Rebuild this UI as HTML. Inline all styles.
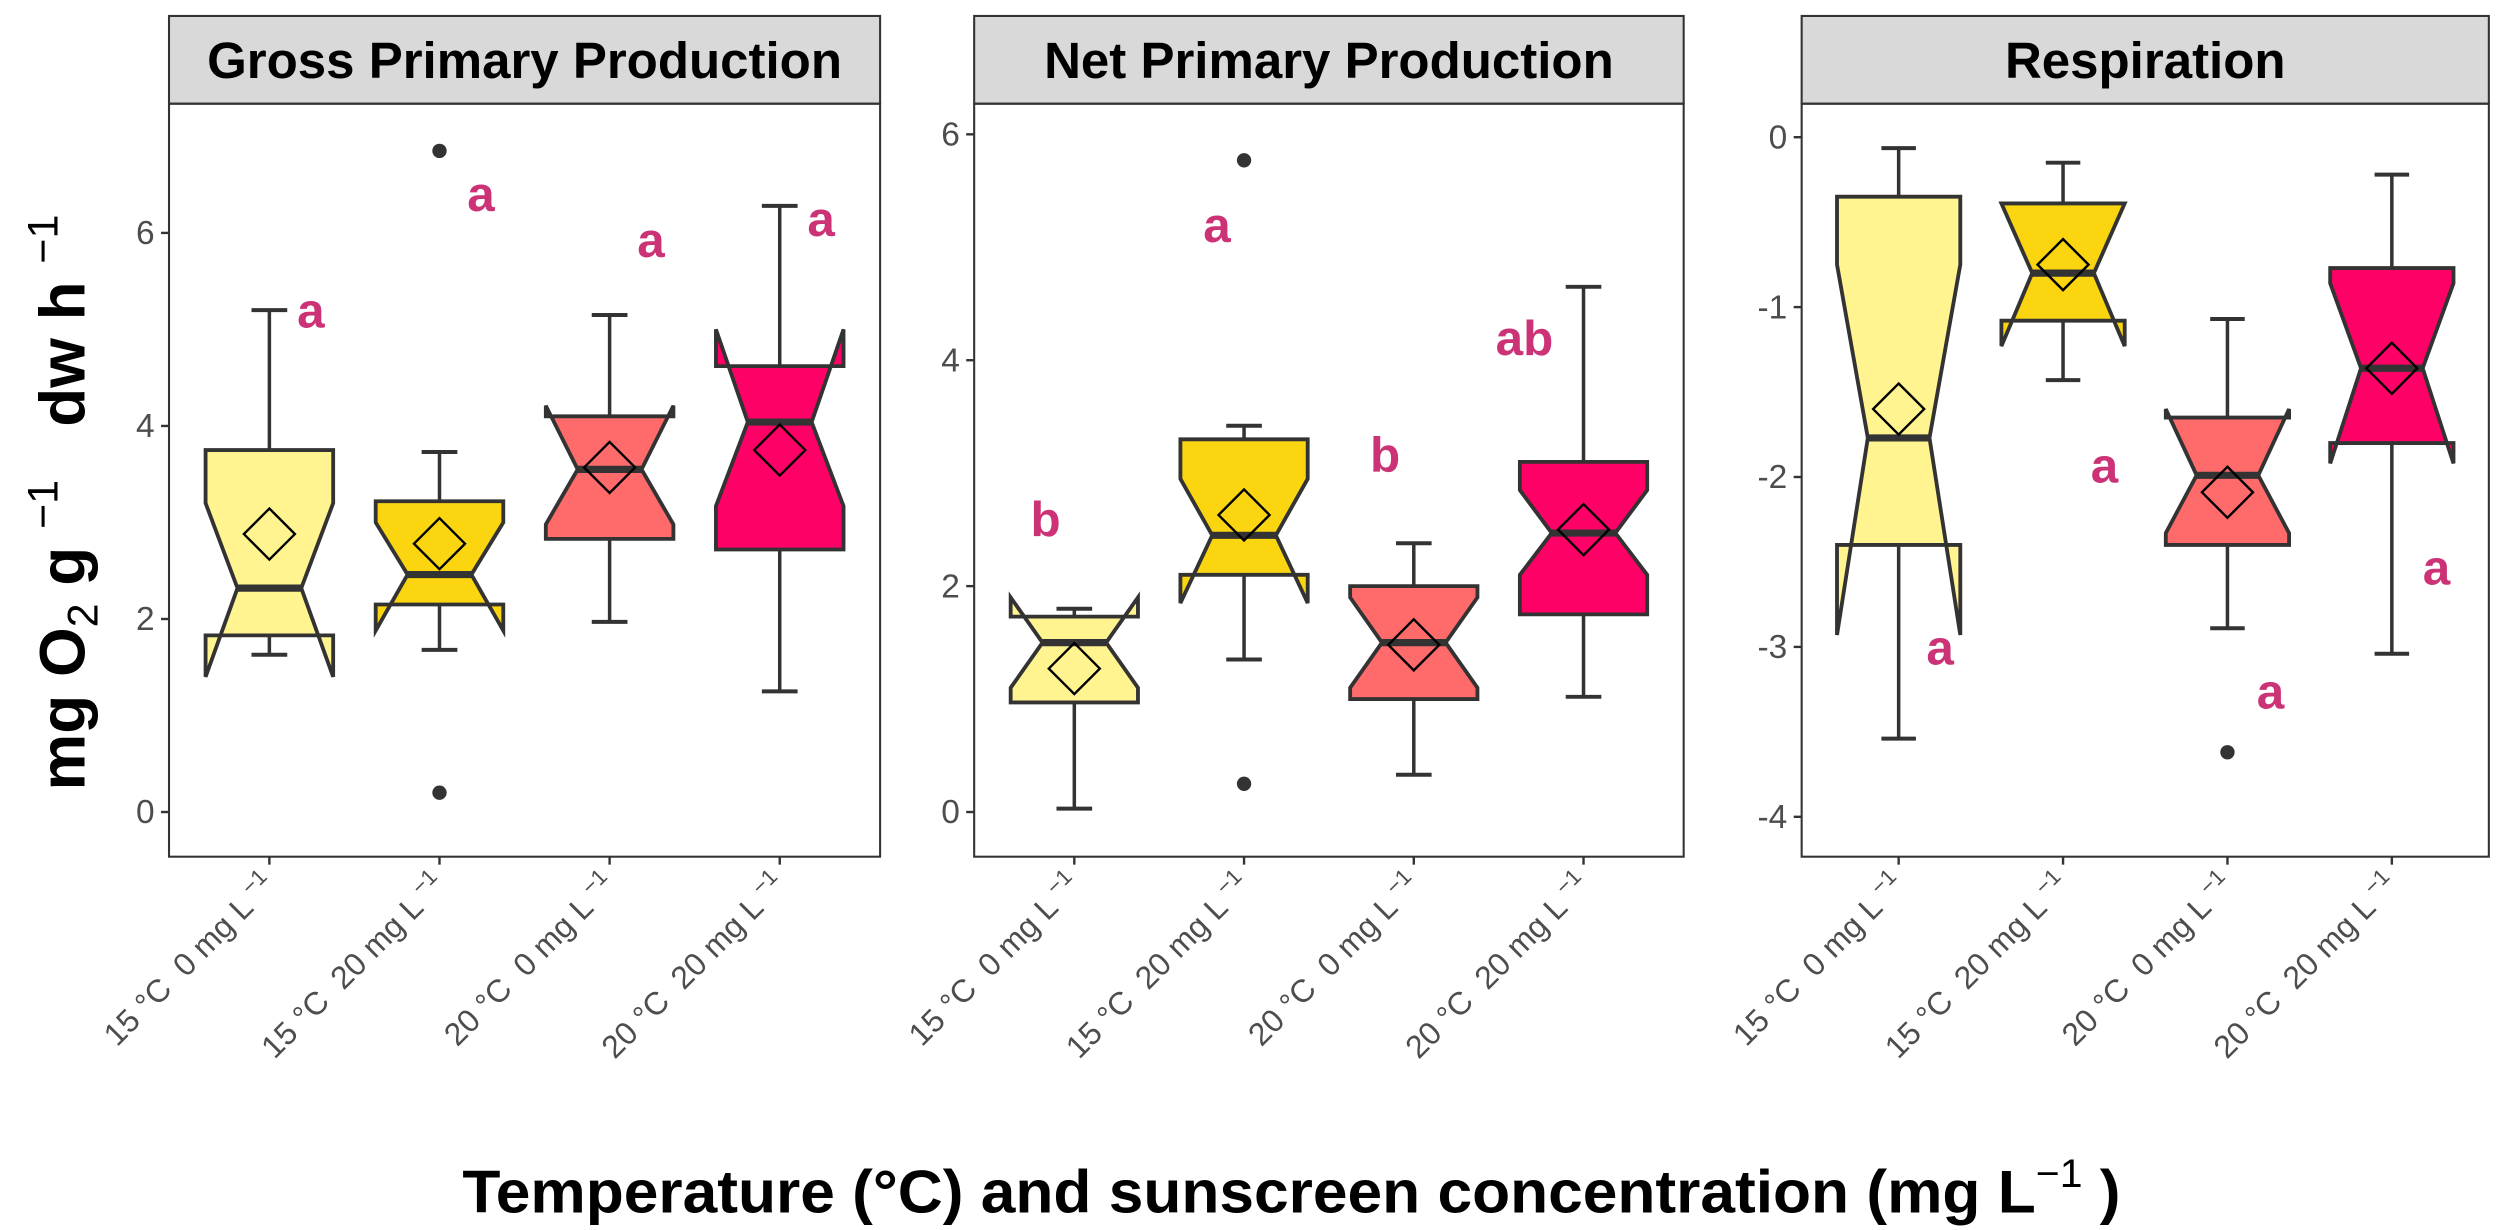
<!DOCTYPE html>
<html><head><meta charset="utf-8"><style>
html,body{margin:0;padding:0;background:#fff;}
svg{display:block;font-family:"Liberation Sans",Arial,sans-serif;}
</style></head><body>
<svg id="chart" width="2500" height="1230" viewBox="0 0 1568 771" preserveAspectRatio="none" xmlns="http://www.w3.org/2000/svg">
<rect width="1568" height="771" fill="#fff"/>
<text transform="translate(53,315) rotate(-90)" text-anchor="middle" font-size="40" font-weight="bold" fill="#000">mg O<tspan font-size="27" dy="8" font-weight="normal">2</tspan><tspan dy="-8">&#160;g&#160;</tspan><tspan font-size="27" dy="-17" font-weight="normal">−1</tspan><tspan dy="17">&#160;&#160;&#160;dw h&#160;</tspan><tspan font-size="27" dy="-17" font-weight="normal">−1</tspan></text>
<text x="810" y="760" text-anchor="middle" font-size="38" font-weight="bold" fill="#000" textLength="1040" lengthAdjust="spacingAndGlyphs">Temperature (°C) and sunscreen concentration (mg L<tspan font-size="25" dy="-16" font-weight="normal">−1</tspan><tspan dy="16"> )</tspan></text>
</svg>
<script>
const categories = ["15 °C\u00a0\u00a00 mg L", "15 °C\u00a0\u00a020 mg L", "20 °C\u00a0\u00a00 mg L", "20 °C\u00a0\u00a020 mg L"];
const colors = ["#FFF48F", "#FAD510", "#FF6B6B", "#FF0066"];
const panelTitles = ["Gross Primary Production", "Net Primary Production", "Respiration"];
// per panel: [box1..box4]
const whiskerHigh = [[5.2, 3.73, 5.15, 6.28], [1.8, 3.42, 2.38, 4.65], [-0.064, -0.15, -1.07, -0.22]];
const q3Values = [[3.75, 3.22, 4.1, 4.62], [1.73, 3.3, 2.0, 3.1], [-0.35, -0.39, -1.65, -0.77]];
const notchHigh = [[3.2, 3.0, 4.21, 5.0], [1.9, 2.95, 1.9, 2.85], [-0.75, -0.39, -1.6, -0.86]];
const medians = [[2.32, 2.46, 3.55, 4.04], [1.5, 2.45, 1.5, 2.47], [-1.77, -0.8, -1.99, -1.36]];
const notchLow = [[1.4, 1.88, 2.98, 3.17], [1.1, 1.85, 1.1, 2.1], [-2.93, -1.23, -2.33, -1.92]];
const q1Values = [[1.83, 2.15, 2.83, 2.72], [0.97, 2.1, 1.0, 1.75], [-2.4, -1.08, -2.4, -1.8]];
const whiskerLow = [[1.63, 1.68, 1.97, 1.25], [0.03, 1.35, 0.33, 1.02], [-3.54, -1.43, -2.89, -3.04]];
const means = [[2.88, 2.78, 3.57, 3.75], [1.27, 2.63, 1.48, 2.5], [-1.6, -0.75, -2.09, -1.36]];
const outliers = [[[], [6.85, 0.2], [], []], [[], [5.77, 0.25], [], []], [[], [], [-3.62], []]];
const letters = [["a", "a", "a", "a"], ["b", "a", "b", "ab"], ["a", "a", "a", "a"]];
const letterY = [[5.2, 6.41, 5.93, 6.15], [2.6, 5.2, 3.17, 4.2], [-3.0, -1.93, -3.26, -2.53]];
const yTicks = [[0, 2, 4, 6], [0, 2, 4, 6], [0, -1, -2, -3, -4]];
const yTickLabels = [["0", "2", "4", "6"], ["0", "2", "4", "6"], ["0", "-1", "-2", "-3", "-4"]];

const NS = "http://www.w3.org/2000/svg";
const svg = document.getElementById("chart");
const panels = [
  {x0: 106, x1: 552, yMap: v => 509 - v * 60.5, letterDx: [26, 26, 26, 26]},
  {x0: 611, x1: 1056, yMap: v => 509 - v * 70.8, letterDx: [-18, -17, -18, -37]},
  {x0: 1130, x1: 1561, yMap: v => 86 - v * 106.5, letterDx: [26, 26, 27, 28]}
];
const plotTop = 65, plotBot = 537, stripTop = 10;
function el(tag, attrs, parent) {
  const e = document.createElementNS(NS, tag);
  for (const k in attrs) e.setAttribute(k, attrs[k]);
  (parent || svg).appendChild(e);
  return e;
}
panels.forEach((p, pi) => {
  const g = el("g", {});
  
  
  const y = p.yMap;
  const step = (p.x1 - p.x0) / 4.18;
  const xc = i => p.x0 + (p.x1 - p.x0) / 2 + (i - 1.5) * step;
  const hw = step * 0.375;
  const strip = el("rect", {x: p.x0, y: stripTop, width: p.x1 - p.x0, height: plotTop - stripTop, fill: "#d9d9d9", stroke: "#333", "stroke-width": 1.3}, g);
  
  
  const st = el("text", {x: (p.x0 + p.x1) / 2, y: 49, "text-anchor": "middle", "font-size": 32, "font-weight": "bold", fill: "#000"}, g);
  st.textContent = panelTitles[pi];
  
  
  yTicks[pi].forEach((t, ti) => {
    const ty = y(t);
    el("line", {x1: p.x0 - 5, x2: p.x0, y1: ty, y2: ty, stroke: "#333", "stroke-width": 1.5}, g);
    const tl = el("text", {x: p.x0 - 9, y: ty + 7, "text-anchor": "end", "font-size": 21, fill: "#4d4d4d"}, g);
    tl.textContent = yTickLabels[pi][ti];
    
    
  });
  categories.forEach((c, i) => {
    const cx = xc(i);
    const bg = el("g", {}, g);
    
    
    const L = cx - hw, R = cx + hw, n = hw * 0.5;
    el("line", {x1: cx, x2: cx, y1: y(whiskerHigh[pi][i]), y2: y(q3Values[pi][i]), stroke: "#333", "stroke-width": 2.2}, bg);
    el("line", {x1: cx, x2: cx, y1: y(q1Values[pi][i]), y2: y(whiskerLow[pi][i]), stroke: "#333", "stroke-width": 2.2}, bg);
    el("line", {x1: cx - hw * 0.28, x2: cx + hw * 0.28, y1: y(whiskerHigh[pi][i]), y2: y(whiskerHigh[pi][i]), stroke: "#333", "stroke-width": 2.5}, bg);
    el("line", {x1: cx - hw * 0.28, x2: cx + hw * 0.28, y1: y(whiskerLow[pi][i]), y2: y(whiskerLow[pi][i]), stroke: "#333", "stroke-width": 2.5}, bg);
    const pts = [[L, q3Values[pi][i]], [R, q3Values[pi][i]], [R, notchHigh[pi][i]], [cx + n, medians[pi][i]], [R, notchLow[pi][i]], [R, q1Values[pi][i]], [L, q1Values[pi][i]], [L, notchLow[pi][i]], [cx - n, medians[pi][i]], [L, notchHigh[pi][i]]];
    el("polygon", {points: pts.map(q => q[0] + "," + y(q[1])).join(" "), fill: colors[i], stroke: "#333", "stroke-width": 2.4, "stroke-linejoin": "miter"}, bg);
    el("line", {x1: cx - n, x2: cx + n, y1: y(medians[pi][i]), y2: y(medians[pi][i]), stroke: "#333", "stroke-width": 4.5}, bg);
    const my = y(means[pi][i]), d = 16;
    el("polygon", {points: `${cx},${my - d} ${cx + d},${my} ${cx},${my + d} ${cx - d},${my}`, fill: "none", stroke: "#000", "stroke-width": 1.5}, bg);
    outliers[pi][i].forEach(o => el("circle", {cx: cx, cy: y(o), r: 4.5, fill: "#333"}, bg));
    const lt = el("text", {x: cx + p.letterDx[i], y: y(letterY[pi][i]) + 11, "text-anchor": "middle", "font-size": 31, "font-weight": "bold", fill: "#CC3377"}, g);
    lt.textContent = letters[pi][i];
    
    
    el("line", {x1: cx, x2: cx, y1: plotBot, y2: plotBot + 5, stroke: "#333", "stroke-width": 1.5}, g);
    const xl = el("text", {transform: `translate(${cx + 5},${plotBot + 19}) rotate(-45)`, "text-anchor": "end", "font-size": 20, fill: "#4d4d4d"}, g);
    xl.innerHTML = c + '<tspan font-size="14" dy="-8">\u00a0−1</tspan>';
    
    
  });
  const border = el("rect", {x: p.x0, y: plotTop, width: p.x1 - p.x0, height: plotBot - plotTop, fill: "none", stroke: "#333", "stroke-width": 1.3}, g);
  
  
});
</script>
</body></html>
